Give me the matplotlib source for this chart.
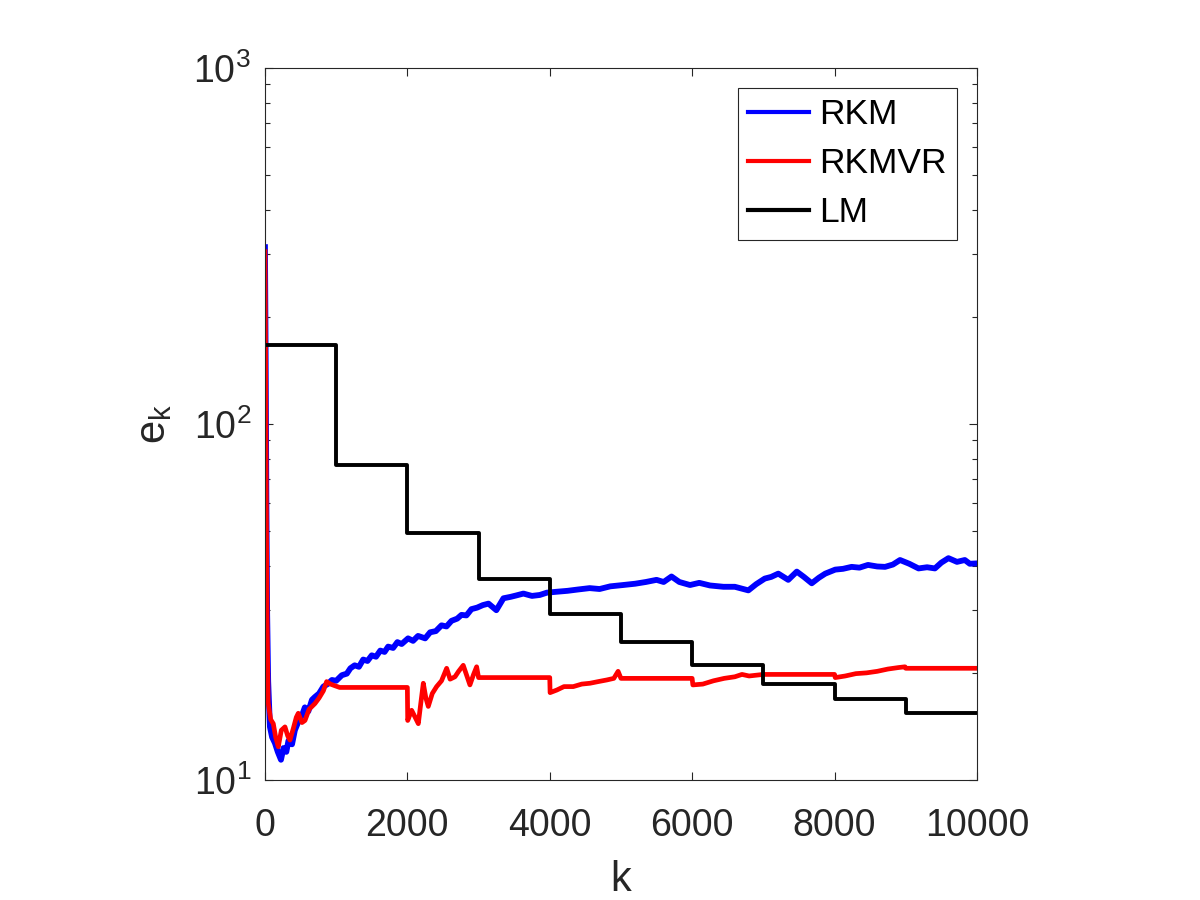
import matplotlib
matplotlib.use("Agg")
import matplotlib.pyplot as plt

plt.rcParams['font.family'] = ['Liberation Sans', 'DejaVu Sans']
plt.rcParams['mathtext.fontset'] = 'custom'
plt.rcParams['mathtext.rm'] = 'Liberation Sans'
plt.rcParams['mathtext.it'] = 'Liberation Sans'
plt.rcParams['mathtext.default'] = 'regular'

# values (iteration k, error e_k)
rkm_k = [0, 10, 20, 30, 45, 70, 100, 140, 180, 225, 260, 300, 330, 380, 420, 470,
         520, 560, 610, 660, 700, 760, 820, 880, 940, 1000, 1080, 1150, 1200, 1260,
         1320, 1380, 1440, 1500, 1560, 1620, 1680, 1730, 1800, 1860, 1920, 2010,
         2080, 2150, 2250, 2320, 2400, 2480, 2550, 2620, 2700, 2760, 2830, 2900,
         2980, 3060, 3140, 3250, 3350, 3450, 3530, 3630, 3750, 3860, 3960, 4100,
         4250, 4400, 4560, 4700, 4850, 5030, 5200, 5350, 5500, 5600, 5710, 5820,
         5970, 6100, 6250, 6440, 6600, 6790, 6900, 7020, 7110, 7210, 7350, 7470,
         7570, 7680, 7780, 7870, 8010, 8120, 8240, 8350, 8470, 8600, 8710, 8820,
         8920, 9050, 9180, 9300, 9410, 9500, 9600, 9720, 9830, 9900, 10000]
rkm_e = [314, 150, 60, 30, 19, 14.1, 13.2, 12.7, 12.0, 11.4, 12.3, 12.0, 12.9, 12.6,
         13.8, 14.6, 15.2, 16.0, 15.6, 16.8, 17.1, 17.5, 18.3, 18.6, 19.1, 19.0,
         19.7, 19.9, 20.6, 21.0, 20.8, 21.8, 21.6, 22.4, 22.2, 23.1, 22.9, 23.7,
         23.5, 24.4, 24.1, 25.0, 24.6, 25.4, 25.0, 26.0, 26.2, 27.2, 27.0, 28.0,
         28.4, 29.1, 29.0, 30.2, 30.5, 31.0, 31.3, 30.0, 32.4, 32.7, 33.0, 33.4,
         32.9, 33.1, 33.6, 33.8, 34.0, 34.3, 34.6, 34.4, 35.0, 35.3, 35.6, 36.0,
         36.5, 36.0, 37.3, 36.0, 35.3, 35.8, 35.2, 34.9, 34.9, 34.1, 35.5, 36.8,
         37.2, 38.0, 36.5, 38.5, 37.2, 35.7, 37.0, 38.0, 39.0, 39.2, 39.7, 39.5,
         40.2, 39.8, 39.7, 40.3, 41.5, 40.5, 39.3, 39.6, 39.3, 40.8, 42.0, 41.0,
         41.5, 40.5, 40.6]

rkmvr_k = [0, 10, 20, 30, 45, 80, 117, 150, 187, 230, 281, 320, 351, 400, 440, 468,
           520, 562, 620, 702, 760, 820, 866, 920, 983, 1050, 2000, 2005, 2060, 2110,
           2154, 2190, 2224, 2260, 2294, 2350, 2411, 2480, 2552, 2600, 2669, 2720,
           2785, 2840, 2879, 2930, 2973, 3000, 4000, 4005, 4100, 4200, 4330, 4450,
           4565, 4680, 4800, 4900, 4960, 5000, 6000, 6010, 6150, 6300, 6450, 6600,
           6700, 6800, 6900, 7000, 8000, 8010, 8150, 8300, 8450, 8600, 8750, 8900,
           8990, 9000, 10000]
rkmvr_e = [305, 140, 55, 28, 16.5, 14.8, 14.4, 13.2, 12.4, 13.8, 14.1, 13.3, 12.95,
           14.0, 15.0, 15.4, 14.5, 14.7, 15.8, 16.4, 17.0, 17.8, 18.9, 18.6, 18.4,
           18.2, 18.2, 14.7, 15.7, 15.0, 14.4, 16.5, 18.7, 17.0, 16.1, 17.5, 18.3,
           19.0, 20.6, 19.2, 19.5, 20.2, 21.0, 19.5, 18.5, 19.8, 20.8, 19.4, 19.4,
           17.6, 17.9, 18.3, 18.3, 18.6, 18.7, 18.9, 19.1, 19.3, 20.2, 19.3, 19.3,
           18.5, 18.6, 19.0, 19.3, 19.5, 19.8, 19.6, 19.7, 19.8, 19.8, 19.4, 19.6,
           19.9, 20.0, 20.2, 20.5, 20.7, 20.8, 20.6, 20.6]

lm_k = [0, 1000, 2000, 3000, 4000, 5000, 6000, 7000, 8000, 9000, 10000]
lm_e = [166.7, 76.7, 49.4, 36.7, 29.3, 24.4, 21.0, 18.6, 16.9, 15.4, 15.4]

fig = plt.figure(figsize=(12, 9), dpi=100)
ax = fig.add_axes([0.2208, 0.1333, 0.5933, 0.7911])

ax.plot(rkm_k, rkm_e, color='#0000ff', lw=4.2, label='RKM')
ax.plot(rkmvr_k, rkmvr_e, color='#ff0000', lw=3.4, label='RKMVR')
ax.plot(lm_k, lm_e, color='black', lw=2.8, drawstyle='steps-post', label='LM')

ax.set_yscale('log')
ax.set_xlim(0, 10000)
ax.set_ylim(10, 1000)
ax.set_xticks([0, 2000, 4000, 6000, 8000, 10000])
ax.set_yticks([10, 100, 1000])
ax.set_yticklabels(['$10^{1}$', '$10^{2}$', '$10^{3}$'])

ax.tick_params(which='both', direction='in', top=True, right=True,
               colors='0.15', labelsize=27)
ax.tick_params(which='major', length=6, width=0.8)
ax.tick_params(which='minor', length=3.5, width=0.8)
ax.tick_params(axis='x', pad=20)
ax.tick_params(axis='y', pad=10)
for s in ax.spines.values():
    s.set_color('0.15')
    s.set_linewidth(0.8)

ax.set_xlabel('k', fontsize=30, color='0.15', labelpad=12)
ax.set_ylabel('$e_k$', fontsize=30, color='0.15', labelpad=14)

leg = ax.legend(loc='upper right', fontsize=25.5, handlelength=1.7,
                handletextpad=0.3, labelspacing=0.45, borderpad=0.3,
                borderaxespad=0, fancybox=False, framealpha=1, edgecolor='0.15',
                bbox_to_anchor=(0.9725, 0.9725))
leg.get_frame().set_linewidth(0.8)
for ln in leg.get_lines():
    ln.set_linewidth(3)

fig.savefig('out.png', dpi=100)
